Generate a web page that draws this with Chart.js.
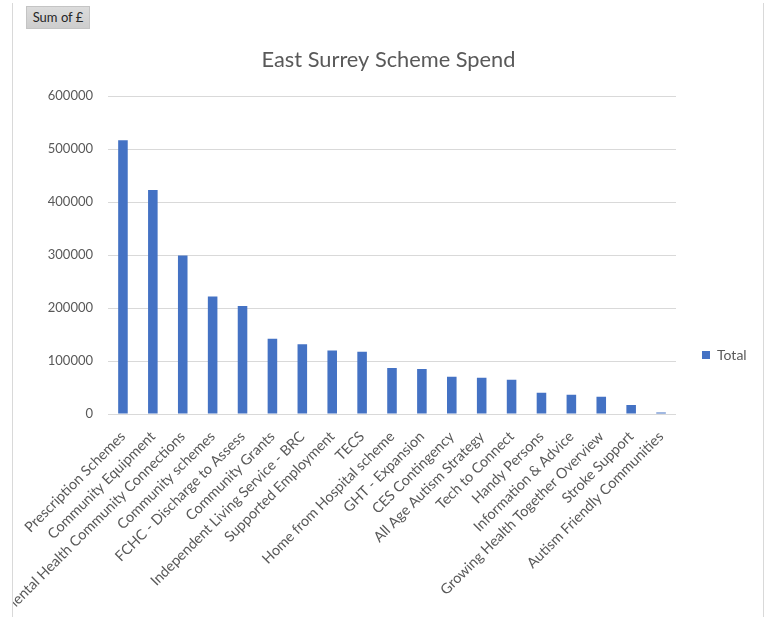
<!DOCTYPE html>
<html>
<head>
<meta charset="utf-8">
<script src="https://cdn.jsdelivr.net/npm/chart.js@4.4.1/dist/chart.umd.min.js"></script>
<style>
  html, body { margin: 0; padding: 0; background: #ffffff; }
  body { width: 771px; height: 617px; position: relative; overflow: hidden; }
  #frame { position: absolute; left: 12px; top: 3px; width: 750px; height: 614px;
           border-left: 1px solid #d9d9d9; border-right: 1px solid #d9d9d9; }
  #wrap { position: absolute; left: 13px; top: 0; width: 751px; height: 617px; }
  #fieldBtn { position: absolute; left: 26px; top: 6px; width: 64px; height: 23px;
              box-sizing: border-box; background: linear-gradient(#dcdcdc, #cdcdcd);
              border: 1px solid #c4c4c4; font: 13px Lato, "Open Sans", sans-serif;
              color: #262626; line-height: 21px; text-align: center; z-index: 2; }
</style>
</head>
<body>
<div id="frame"></div>
<div id="fieldBtn">Sum of £</div>
<div id="wrap"><canvas id="chart"></canvas></div>
<script>
// Scheme names and total spend (£) per scheme
const schemes = [
  'Prescription Schemes',
  'Community Equipment',
  'Mental Health Community Connections',
  'Community schemes',
  'FCHC - Discharge to Assess',
  'Community Grants',
  'Independent Living Service - BRC',
  'Supported Employment',
  'TECS',
  'Home from Hospital scheme',
  'GHT - Expansion',
  'CES Contingency',
  'All Age Autism Strategy',
  'Tech to Connect',
  'Handy Persons',
  'Information & Advice',
  'Growing Health Together Overview',
  'Stroke Support',
  'Autism Friendly Communities'
];
const totals = [
  517000, 423000, 299000, 222000, 204000, 142000, 131500, 120000, 117500,
  86800, 84900, 70400, 68500, 64700, 40200, 36400, 32600, 17000, 3000
];
const seriesName = 'Total';
const chartTitle = 'East Surrey Scheme Spend';
const yTicks = [0, 100000, 200000, 300000, 400000, 500000, 600000];

const textGrey = '#595959';
const gridGrey = '#d9d9d9';
const barBlue = '#4472C4';

// Centres the title across the whole canvas and puts the legend to the right of the plot,
// level with the middle of the category labels
const blockPlacer = {
  id: 'blockPlacer',
  afterLayout(chart) {
    const t = chart.titleBlock;
    if (t) { t.left = 0; t.right = chart.width; t.width = chart.width; }
    const lg = chart.legend;
    if (!lg) return;
    const w = lg.width;
    lg.left = 679;
    lg.right = lg.left + w;
    lg.top = 330;
    lg.bottom = 380;
  }
};

new Chart(document.getElementById('chart'), {
  type: 'bar',
  data: {
    labels: schemes,
    datasets: [{
      label: seriesName,
      data: totals,
      backgroundColor: barBlue,
      borderWidth: 0,
      barPercentage: 0.32,
      categoryPercentage: 1.0
    }]
  },
  options: {
    responsive: true,
    maintainAspectRatio: false,
    animation: false,
    layout: { padding: { left: 0, right: 88, top: 0, bottom: 0 } },
    plugins: {
      title: {
        display: true,
        text: chartTitle,
        color: textGrey,
        font: { family: 'Lato', size: 21.8, weight: 'normal' },
        padding: { top: 47, bottom: 23 }
      },
      legend: {
        display: true,
        position: 'chartArea',
        align: 'center',
        labels: {
          boxWidth: 8,
          boxHeight: 8,
          color: textGrey,
          font: { family: 'Lato', size: 14 },
          padding: 10
        }
      },
      tooltip: { enabled: false }
    },
    scales: {
      x: {
        grid: { display: false },
        border: { display: false },
        ticks: {
          autoSkip: false,
          maxRotation: 45,
          minRotation: 45,
          color: textGrey,
          padding: 6,
          font: { family: 'Lato', size: 14.4 }
        },
        afterFit(scale) { scale.height = 203; }
      },
      y: {
        min: 0,
        max: 600000,
        afterBuildTicks(scale) { scale.ticks = yTicks.map(v => ({ value: v })); },
        grid: { color: gridGrey, lineWidth: 1, drawTicks: false },
        border: { display: false },
        ticks: {
          color: textGrey,
          padding: 15,
          font: { family: 'Lato', size: 13 },
          callback: v => String(v)
        },
        afterFit(scale) { scale.width = 95; }
      }
    }
  },
  plugins: [blockPlacer]
});
</script>
</body>
</html>
